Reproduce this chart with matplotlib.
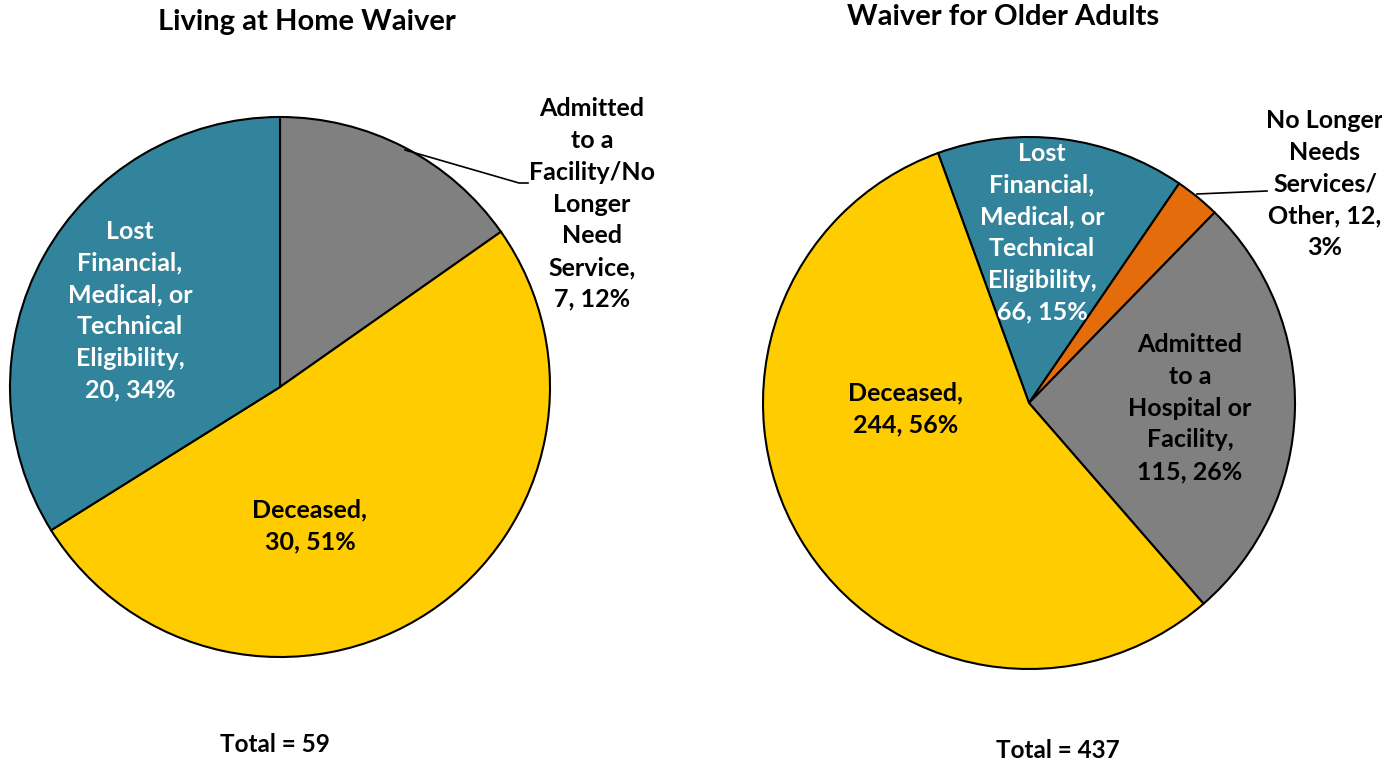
import matplotlib
matplotlib.use("Agg")
import matplotlib.pyplot as plt

plt.rcParams['font.family'] = ['Lato', 'DejaVu Sans']

# Living at Home Waiver
lah_labels = ["Admitted\nto a\nFacility/No\nLonger\nNeed\nService,", "Deceased,", "Lost\nFinancial,\nMedical, or\nTechnical\nEligibility,"]
lah_values = [7, 30, 20]
lah_unlabeled = 2          # drawn inside the gray wedge, no label of its own
lah_total = 59
lah_colors = ["#808080", "#FFCC00", "#31849B"]

# Waiver for Older Adults
woa_labels = ["Lost\nFinancial,\nMedical, or\nTechnical\nEligibility,", "No Longer\nNeeds\nServices/\nOther,", "Admitted\nto a\nHospital or\nFacility,", "Deceased,"]
woa_values = [66, 12, 115, 244]
woa_total = 437
woa_colors = ["#31849B", "#E46C0A", "#808080", "#FFCC00"]

W, H = 1382, 761
fig = plt.figure(figsize=(W / 100, H / 100), dpi=100)
ax = fig.add_axes([0, 0, 1, 1])

wp = dict(edgecolor="black", linewidth=1.5)
lah_drawn = [lah_values[0] + lah_unlabeled] + lah_values[1:]
ax.pie(lah_drawn, colors=lah_colors, startangle=90, counterclock=False,
       center=(280, H - 387), radius=270, wedgeprops=wp, frame=True)
ax.pie(woa_values, colors=woa_colors, startangle=110, counterclock=False,
       center=(1029, H - 403), radius=266, wedgeprops=wp, frame=True)

ax.set_xlim(0, W)
ax.set_ylim(0, H)
ax.set_aspect("equal")
ax.axis("off")

fs = 18
tk = dict(ha="center", va="center", fontsize=fs, fontweight="bold", linespacing=1.46)

def lab(i, labels, values, total):
    return "%s\n%d, %d%%" % (labels[i], values[i], round(100 * values[i] / total))

# left pie labels
ax.text(592, H - 204, lab(0, lah_labels, lah_values, lah_total), color="black", **tk)
ax.text(310, H - 526, "Deceased,\n%d, %d%%" % (lah_values[1], round(100 * lah_values[1] / lah_total)), color="black", **tk)
ax.text(130, H - 311, lab(2, lah_labels, lah_values, lah_total), color="white", **tk)
ax.plot([405, 519, 528], [H - 150, H - 183, H - 183], color="black", lw=1.2)

# right pie labels
ax.text(1042, H - 233, lab(0, woa_labels, woa_values, woa_total), color="white", **tk)
ax.text(1325, H - 184, "No Longer\nNeeds\nServices/\nOther, %d,\n%d%%" % (woa_values[1], round(100 * woa_values[1] / woa_total)), color="black", **tk)
ax.text(1190, H - 408, lab(2, woa_labels, woa_values, woa_total), color="black", **tk)
ax.text(906, H - 409, "Deceased,\n%d, %d%%" % (woa_values[3], round(100 * woa_values[3] / woa_total)), color="black", **tk)
ax.plot([1197, 1267], [H - 194, H - 191], color="black", lw=1.2)

# titles and totals
ax.text(307, H - 22, "Living at Home Waiver", ha="center", va="center", fontsize=21, fontweight="bold")
ax.text(1003, H - 17, "Waiver for Older Adults", ha="center", va="center", fontsize=21, fontweight="bold")
ax.text(275, H - 745, "Total = %d" % lah_total, ha="center", va="center", fontsize=17.5, fontweight="bold")
ax.text(1058, H - 750, "Total = %d" % woa_total, ha="center", va="center", fontsize=17.5, fontweight="bold")

fig.savefig("out.png", dpi=100)
